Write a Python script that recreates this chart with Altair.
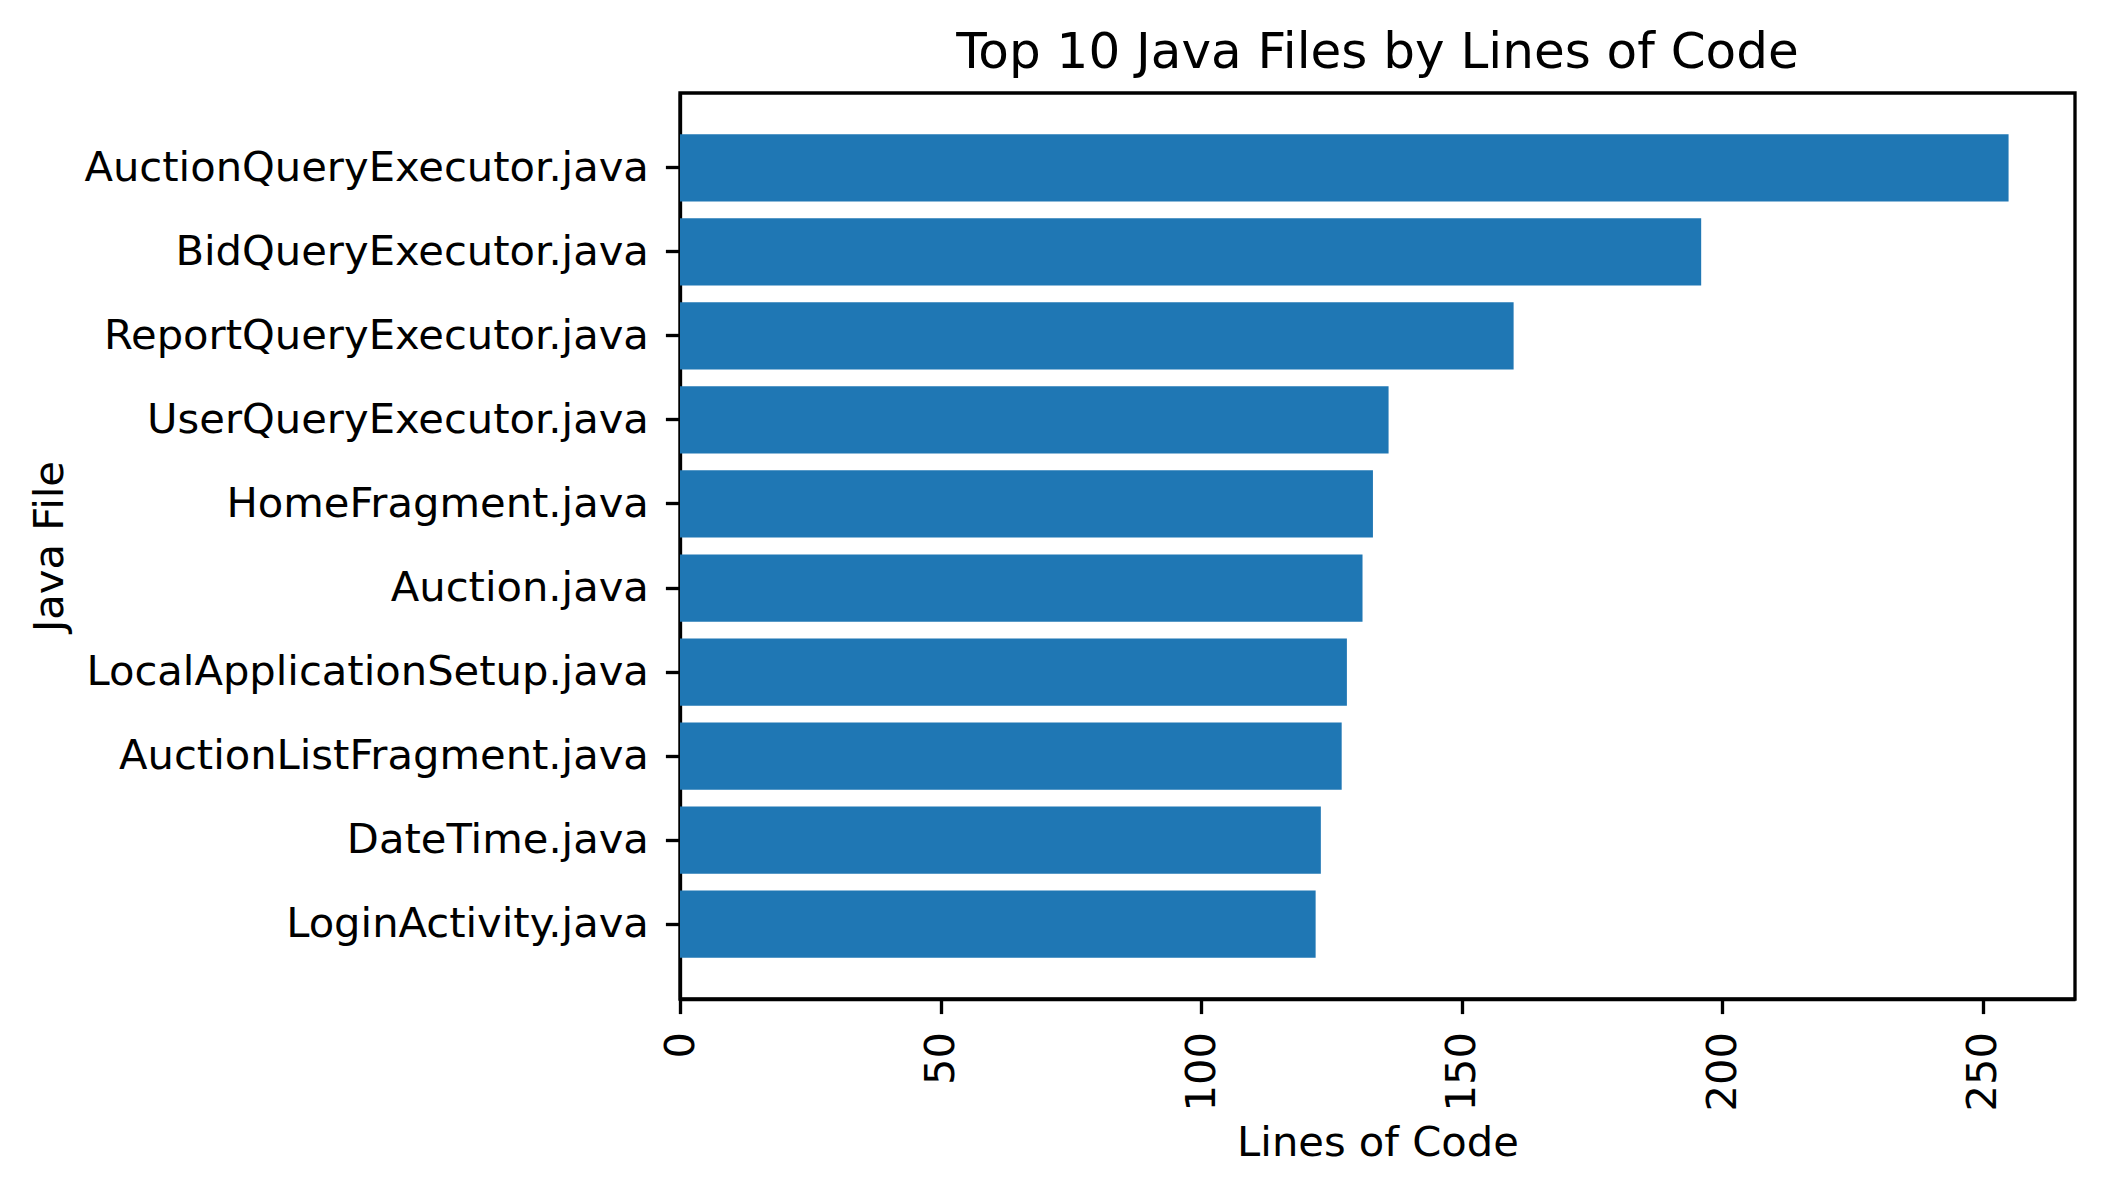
import altair as alt
import pandas as pd

files = [
    "AuctionQueryExecutor.java",
    "BidQueryExecutor.java",
    "ReportQueryExecutor.java",
    "UserQueryExecutor.java",
    "HomeFragment.java",
    "Auction.java",
    "LocalApplicationSetup.java",
    "AuctionListFragment.java",
    "DateTime.java",
    "LoginActivity.java",
]
lines = [255, 196, 160, 136, 133, 131, 128, 127, 123, 122]
x_ticks = [0, 50, 100, 150, 200, 250]

df = pd.DataFrame({"file": files, "loc": lines})

FONT = "DejaVu Sans"
LW = 3.33
W, H = 1395, 906

chart = (
    alt.Chart(df)
    .mark_bar(color="#1f77b4")
    .encode(
        x=alt.X(
            "loc:Q",
            scale=alt.Scale(domain=[0, max(lines) * 1.05], nice=False, zero=True),
            axis=alt.Axis(
                title="Lines of Code",
                values=x_ticks,
                labelAngle=-90,
                labelPadding=18,
                titleX=W / 2,
                titleY=156,
                titleBaseline="alphabetic",
            ),
        ),
        y=alt.Y(
            "file:N",
            sort=files,
            scale=alt.Scale(paddingInner=0.2, paddingOuter=0.49),
            axis=alt.Axis(
                title="Java File",
                labelPadding=17,
                labelLimit=1000,
                titleX=-618,
                titleY=H / 2,
                titleBaseline="alphabetic",
                titleAngle=-90,
            ),
        ),
    )
    .properties(
        width=W,
        height=H,
        title=alt.TitleParams(
            "Top 10 Java Files by Lines of Code",
            font=FONT,
            fontSize=50,
            fontWeight="normal",
            color="black",
            anchor="middle",
            frame="group",
            baseline="alphabetic",
            offset=25,
            dy=50,
        ),
        autosize=alt.AutoSizeParams(type="none"),
        padding={"left": 672, "top": 85, "right": 12, "bottom": 170},
    )
    .configure_view(stroke="black", strokeWidth=LW)
    .configure_axis(
        labelFont=FONT,
        titleFont=FONT,
        labelFontSize=41.67,
        titleFontSize=41.67,
        labelColor="black",
        titleColor="black",
        titleFontWeight="normal",
        domainColor="black",
        domainWidth=LW,
        tickColor="black",
        tickWidth=LW,
        tickSize=14.6,
        grid=False,
    )
)

chart.save("out.html", embed_options={"renderer": "svg", "actions": False})
